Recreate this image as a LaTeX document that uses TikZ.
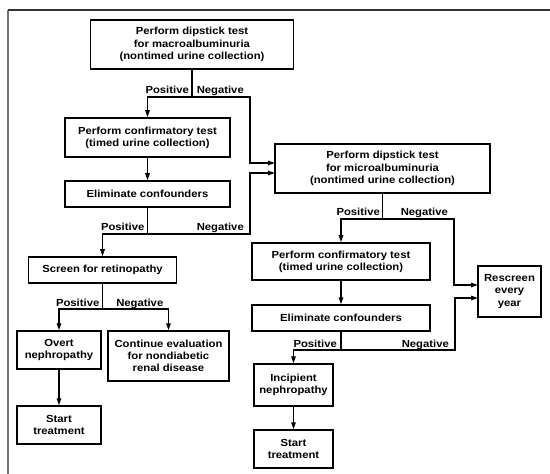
\documentclass[tikz,border=0pt]{standalone}
\usepackage{fontspec}
\setmainfont{Liberation Sans}[FakeStretch=1.1]
\usetikzlibrary{arrows.meta, positioning, calc}
\tikzset{
  box/.style={draw, line width=1.5bp, align=center, inner sep=0pt,
    font=\bfseries\fontsize{10.3}{12.3}\selectfont},
  wire/.style={line width=1.3bp},
  arr/.style={wire, -{Triangle[length=7bp,width=4.5bp]}},
  lbl/.style={anchor=base east, inner sep=0pt,
    font=\bfseries\fontsize{10.3}{12.3}\selectfont}
}
\begin{document}
\begin{tikzpicture}[x=1bp,y=-1bp]
\useasboundingbox (0,0) rectangle (550,474);
% frame
\draw[line width=1.2bp, black!55] (8,474) -- (8,10);
\draw[line width=1.3bp, black!80] (8,10) -- (550,10);

% left column
\node[box, minimum width=203bp, minimum height=49bp] (macro) at (192,44.5)
  {Perform dipstick test\\for macroalbuminuria\\(nontimed urine collection)};
\node[box, minimum width=165bp, minimum height=39bp] (conf1) at (147.5,137.5)
  {Perform confirmatory test\\(timed urine collection)};
\node[box, minimum width=165bp, minimum height=26bp] (elim1) at (147.5,194)
  {Eliminate confounders};
\node[box, minimum width=148bp, minimum height=26bp] (retino) at (102.5,270)
  {Screen for retinopathy};
\node[box, minimum width=84bp, minimum height=38bp] (overt) at (59,350)
  {Overt\\nephropathy};
\node[box, minimum width=121bp, minimum height=50bp] (contin) at (168.5,356)
  {Continue evaluation\\for nondiabetic\\renal disease};
\node[box, minimum width=84bp, minimum height=38bp] (start1) at (59,425)
  {Start\\treatment};

% right column
\node[box, minimum width=215bp, minimum height=49bp] (micro) at (382.5,168.5)
  {Perform dipstick test\\for microalbuminuria\\(nontimed urine collection)};
\node[box, minimum width=178bp, minimum height=37bp] (conf2) at (341,261.5)
  {Perform confirmatory test\\(timed urine collection)};
\node[box, minimum width=178bp, minimum height=26bp] (elim2) at (341,318)
  {Eliminate confounders};
\node[box, minimum width=79bp, minimum height=42bp] (incip) at (293.5,385)
  {Incipient\\nephropathy};
\node[box, minimum width=79bp, minimum height=38bp] (start2) at (293.5,449)
  {Start\\treatment};
\node[box, minimum width=63bp, minimum height=51bp] (rescreen) at (509.5,291.5)
  {Rescreen\\every\\year};

% split points
\coordinate (s1) at (192,97);
\coordinate (n1) at (250,97);
\coordinate (m1) at (275,163);
\coordinate (s2) at (147.5,234);
\coordinate (n2) at (250,234);
\coordinate (m2) at (275,173);
\coordinate (s3) at (102.5,309);
\coordinate (s4) at (382.5,219);
\coordinate (n4) at (454,219);
\coordinate (r1) at (478,285);
\coordinate (s5) at (341,350);
\coordinate (n5) at (455,350);
\coordinate (r2) at (478,298);

% macroalbuminuria test
\draw[wire] (macro.south) -- (s1);
\draw[arr] (s1) -| (conf1.north);
\draw[arr] (s1) -- (n1) |- (m1);
\node[lbl] (pos1) at (189,94) {Positive};
\node[lbl] (neg1) at (244,94) {Negative};

% confounders
\draw[arr] (conf1) -- (elim1);
\draw[wire] (elim1.south) -- (s2);
\draw[arr] (s2) -| (retino.north);
\draw[arr] (s2) -- (n2) |- (m2);
\node[lbl] (pos2) at (144.5,231) {Positive};
\node[lbl] (neg2) at (244,231) {Negative};

% retinopathy
\draw[wire] (retino.south) -- (s3);
\draw[arr] (s3) -| (overt.north);
\draw[arr] (s3) -| (contin.north);
\node[lbl] (pos3) at (99.5,306) {Positive};
\node[lbl] (neg3) at (163.5,306) {Negative};
\draw[arr] (overt) -- (start1);

% microalbuminuria test
\draw[wire] (micro.south) -- (s4);
\draw[arr] (s4) -| (conf2.north);
\draw[arr] (s4) -- (n4) |- (r1);
\node[lbl] (pos4) at (380,216) {Positive};
\node[lbl] (neg4) at (448,216) {Negative};

% confounders
\draw[arr] (conf2) -- (elim2);
\draw[wire] (elim2.south) -- (s5);
\draw[arr] (s5) -| (incip.north);
\draw[arr] (s5) -- (n5) |- (r2);
\node[lbl] (pos5) at (337,347) {Positive};
\node[lbl] (neg5) at (449,347) {Negative};
\draw[arr] (incip) -- (start2);
\end{tikzpicture}
\end{document}
